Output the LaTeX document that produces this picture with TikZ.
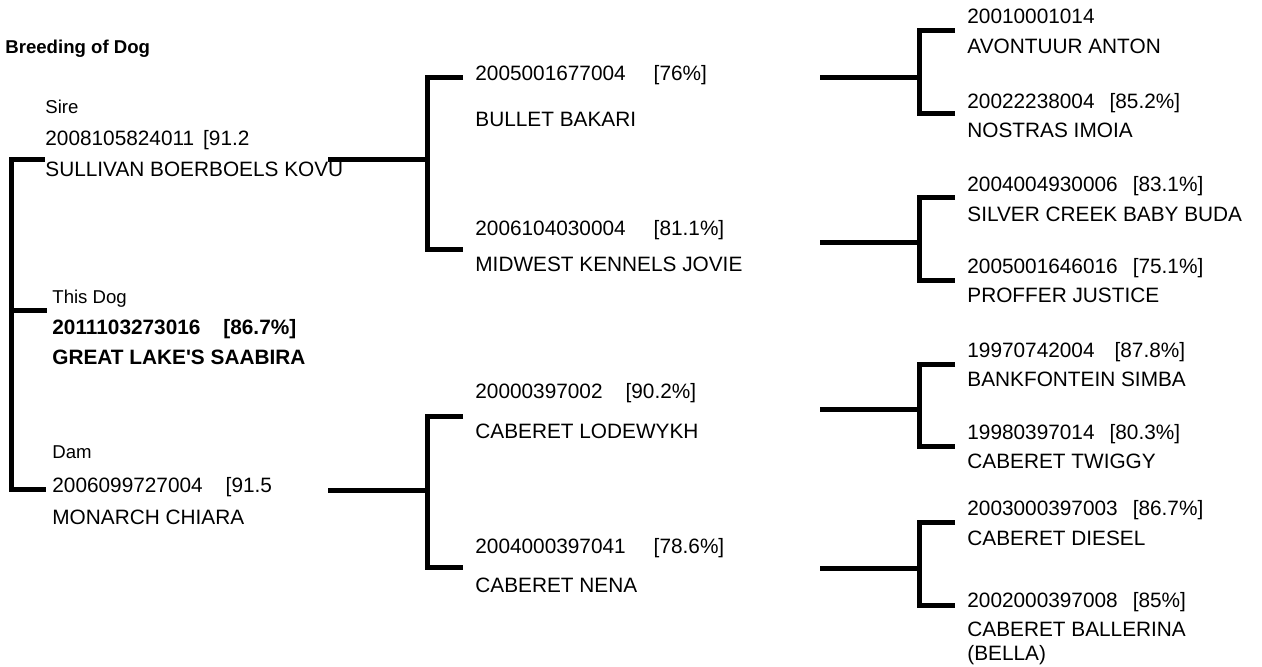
\documentclass[tikz,border=0pt]{standalone}
\usepackage{fontspec}
\setmainfont{Liberation Sans}
\usepackage{tikz}

\newcommand{\gap}[1]{\hspace{\dimexpr #1pt/2\relax}}

\tikzset{
    dogtext/.style={anchor=base west, inner sep=0pt, font=\fontsize{10.4}{12}\selectfont},
    doglabel/.style={anchor=base west, inner sep=0pt, font=\fontsize{9.3}{11}\selectfont},
    pedline/.style={line width=2.5pt},
}

\begin{document}
\begin{tikzpicture}[x=0.5pt, y=-0.5pt]
    \useasboundingbox (0,0) rectangle (1262,666);

    \node[doglabel, font=\fontsize{9.3}{11}\selectfont\bfseries] (title) at (5,53) {Breeding of Dog};

    % this dog, sire and dam
    \node[doglabel] (sire) at (45,113) {Sire};
    \node[dogtext] (sireid) at (45,145) {2008105824011\gap{9}[91.2};
    \node[dogtext] (sirename) at (45,176) {SULLIVAN BOERBOELS KOVU};
    \node[doglabel] (thisdog) at (52,303) {This Dog};
    \node[dogtext, font=\fontsize{10.4}{12}\selectfont\bfseries] (dogid) at (52,334) {2011103273016\gap{23}[86.7\%]};
    \node[dogtext, font=\fontsize{10.4}{12}\selectfont\bfseries] (dogname) at (52,364) {GREAT LAKE\textquotesingle S SAABIRA};
    \node[doglabel] (dam) at (52,458) {Dam};
    \node[dogtext] (damid) at (52,492) {2006099727004\gap{23}[91.5};
    \node[dogtext] (damname) at (52,524) {MONARCH CHIARA};

    % grandparents
    \node[dogtext] (bakariid) at (475,80) {2005001677004\gap{28}[76\%]};
    \node[dogtext] (bakari) at (475,126) {BULLET BAKARI};
    \node[dogtext] (jovieid) at (475,235) {2006104030004\gap{28}[81.1\%]};
    \node[dogtext] (jovie) at (475,271) {MIDWEST KENNELS JOVIE};
    \node[dogtext] (lodewykhid) at (475,398) {20000397002\gap{23}[90.2\%]};
    \node[dogtext] (lodewykh) at (475,438) {CABERET LODEWYKH};
    \node[dogtext] (nenaid) at (475,553) {2004000397041\gap{28}[78.6\%]};
    \node[dogtext] (nena) at (475,592) {CABERET NENA};

    % great grandparents
    \node[dogtext] (antonid) at (967,23) {20010001014};
    \node[dogtext] (anton) at (967,53) {AVONTUUR ANTON};
    \node[dogtext] (imoiaid) at (967,108) {20022238004\gap{15}[85.2\%]};
    \node[dogtext] (imoia) at (967,137) {NOSTRAS IMOIA};
    \node[dogtext] (budaid) at (967,191) {2004004930006\gap{15}[83.1\%]};
    \node[dogtext] (buda) at (967,221) {SILVER CREEK BABY BUDA};
    \node[dogtext] (justiceid) at (967,273) {2005001646016\gap{15}[75.1\%]};
    \node[dogtext] (justice) at (967,302) {PROFFER JUSTICE};
    \node[dogtext] (simbaid) at (967,357) {19970742004\gap{20}[87.8\%]};
    \node[dogtext] (simba) at (967,386) {BANKFONTEIN SIMBA};
    \node[dogtext] (twiggyid) at (967,439) {19980397014\gap{15}[80.3\%]};
    \node[dogtext] (twiggy) at (967,468) {CABERET TWIGGY};
    \node[dogtext] (dieselid) at (967,515) {2003000397003\gap{15}[86.7\%]};
    \node[dogtext] (diesel) at (967,545) {CABERET DIESEL};
    \node[dogtext] (ballerinaid) at (967,607) {2002000397008\gap{15}[85\%]};
    \node[dogtext] (ballerina) at (967,636) {CABERET BALLERINA};
    \node[dogtext] (bella) at (967,660) {(BELLA)};

    % bracket ends
    \coordinate (siretop) at (45,159.5);
    \coordinate (dogv) at (11.5,310.5);
    \coordinate (dogtick) at (47,310.5);
    \coordinate (dambot) at (46,489.5);

    \coordinate (sireend) at (328,159.5);
    \coordinate (sirev) at (427.5,159.5);
    \coordinate (bakaritop) at (463,77.5);
    \coordinate (joviebot) at (463,249.5);

    \coordinate (damend) at (328,490.5);
    \coordinate (damv) at (427.5,490.5);
    \coordinate (lodewykhtop) at (463,416.5);
    \coordinate (nenabot) at (463,567.5);

    \coordinate (bakariend) at (820,77.5);
    \coordinate (bakariv) at (919.5,77.5);
    \coordinate (antontop) at (955,30.5);
    \coordinate (imoiabot) at (955,113.5);

    \coordinate (jovieend) at (820,242.5);
    \coordinate (joviev) at (919.5,242.5);
    \coordinate (budatop) at (955,197.5);
    \coordinate (justicebot) at (955,280.5);

    \coordinate (lodewykhend) at (820,409);
    \coordinate (lodewykhv) at (919.5,409);
    \coordinate (simbatop) at (955,364.5);
    \coordinate (twiggybot) at (955,446.5);

    \coordinate (nenaend) at (820,568);
    \coordinate (nenav) at (919.5,568);
    \coordinate (dieseltop) at (955,522.5);
    \coordinate (ballerinabot) at (955,605.5);

    % brackets
    \draw[pedline] (siretop) -| (dogv) |- (dambot);
    \draw[pedline] (dogv) -- (dogtick);

    \draw[pedline] (bakaritop) -| (sirev) |- (joviebot);
    \draw[pedline] (sireend) -- (sirev);
    \draw[pedline] (lodewykhtop) -| (damv) |- (nenabot);
    \draw[pedline] (damend) -- (damv);

    \draw[pedline] (antontop) -| (bakariv) |- (imoiabot);
    \draw[pedline] (bakariend) -- (bakariv);
    \draw[pedline] (budatop) -| (joviev) |- (justicebot);
    \draw[pedline] (jovieend) -- (joviev);
    \draw[pedline] (simbatop) -| (lodewykhv) |- (twiggybot);
    \draw[pedline] (lodewykhend) -- (lodewykhv);
    \draw[pedline] (dieseltop) -| (nenav) |- (ballerinabot);
    \draw[pedline] (nenaend) -- (nenav);
\end{tikzpicture}
\end{document}
